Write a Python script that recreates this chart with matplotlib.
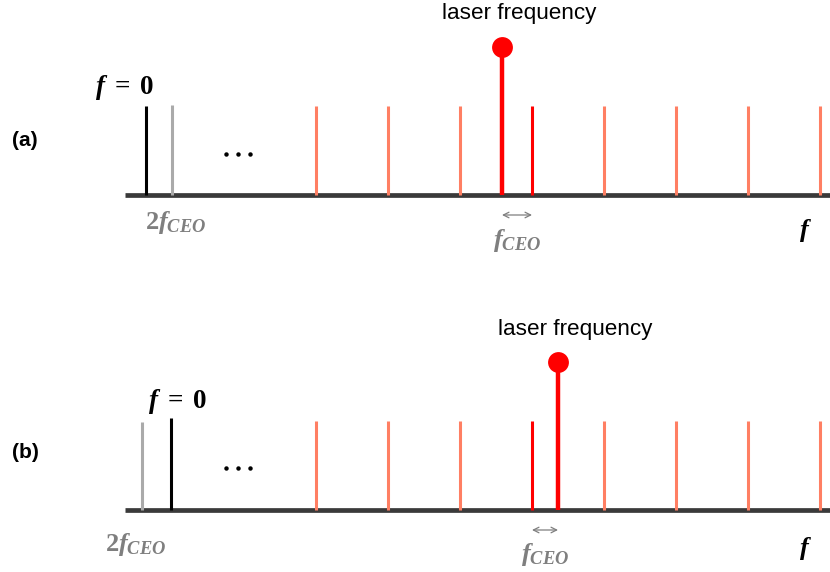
import matplotlib
matplotlib.use("Agg")
import matplotlib.pyplot as plt

plt.rcParams["font.family"] = ["Liberation Sans", "DejaVu Sans"]
plt.rcParams["mathtext.fontset"] = "custom"
plt.rcParams["mathtext.it"] = "Liberation Serif:italic:bold"
plt.rcParams["mathtext.rm"] = "Liberation Serif:bold"
plt.rcParams["mathtext.bf"] = "Liberation Serif:bold"

# Frequency axis positions (arbitrary units) and line heights
comb_modes = [316, 388, 460, 604, 676, 748, 820]
near_mode = 532
comb_height = 89
laser_height = 148
laser_pos = {"a": 502, "b": 558}
zero_pos = {"a": 146, "b": 171}
zero_height = {"a": 89, "b": 92}
ceo2_pos = {"a": 172, "b": 142}
ceo2_height = {"a": 90, "b": 88}
dots_x = [226, 238, 250]
dots_h = {"a": 41, "b": 42}
axis_start, axis_end = 125, 830

SALMON = "#FF7F63"
RED = "#FF0000"
GRAY = "#AAAAAA"
TXT_GRAY = "#7F7F7F"
AXIS = "#3A3A3A"

fig = plt.figure(figsize=(8.3, 5.72), dpi=100)

panels = {
    "a": dict(rect=[0, 0.5, 1, 0.5], ylim=(-91, 195)),
    "b": dict(rect=[0, 0.0, 1, 0.5], ylim=(-62, 224)),
}

for key, p in panels.items():
    ax = fig.add_axes(p["rect"])
    ax.set_xlim(0, 830)
    ax.set_ylim(*p["ylim"])
    ax.axis("off")

    # frequency axis
    ax.plot([axis_start, axis_end], [0, 0], color=AXIS, lw=3.4,
            solid_capstyle="butt", zorder=1)

    # comb teeth
    ax.vlines(comb_modes, 0, comb_height, color=SALMON, lw=2.2, zorder=2)
    ax.vlines(near_mode, 0, comb_height, color=RED, lw=2.2, zorder=2)

    # f = 0 and 2 f_CEO lines
    ax.vlines(zero_pos[key], 0, zero_height[key], color="black", lw=2.2, zorder=2)
    ax.vlines(ceo2_pos[key], 0, ceo2_height[key], color=GRAY, lw=2.2, zorder=2)

    # laser line with round head
    lp = laser_pos[key]
    ax.vlines(lp, 0, laser_height, color=RED, lw=3.2, zorder=3)
    ax.plot([lp], [laser_height], "o", color=RED, ms=15, mew=0, zorder=4)
    ax.text(lp + 17, 181, "laser frequency", ha="center", va="center",
            fontsize=16.2, color="black")

    # ellipsis between low and high frequencies
    ax.plot(dots_x, [dots_h[key]] * 3, "o", color="black", ms=3.2, mew=0)

    # f_CEO offset arrow
    x0, x1 = sorted([lp, near_mode])
    ax.annotate("", xy=(x0, -20), xytext=(x1, -20),
                arrowprops=dict(arrowstyle="<->", color=TXT_GRAY, lw=0.9,
                                shrinkA=0, shrinkB=0, mutation_scale=10))
    ax.text((x0 + x1) / 2, -45, r"$f_{CEO}$", ha="center", va="center",
            fontsize=19, color=TXT_GRAY)

    # labels
    ax.text(zero_pos["a"] - 21 if key == "a" else zero_pos["b"] + 7,
            107 if key == "a" else 108, r"$f\;=\;0$",
            ha="center", va="center", fontsize=19.5, color="black")
    ax.text(176 if key == "a" else 136, -28 if key == "a" else -35,
            r"$\mathbf{2}f_{CEO}$", ha="center", va="center",
            fontsize=19, color=TXT_GRAY)
    ax.text(805, -35 if key == "a" else -38, r"$f$", ha="center", va="center",
            fontsize=19, color="black")
    ax.text(25, 55 if key == "a" else 58, f"({key})", ha="center", va="center",
            fontsize=15, fontweight="bold", color="black")

fig.savefig("out.png", dpi=100)
